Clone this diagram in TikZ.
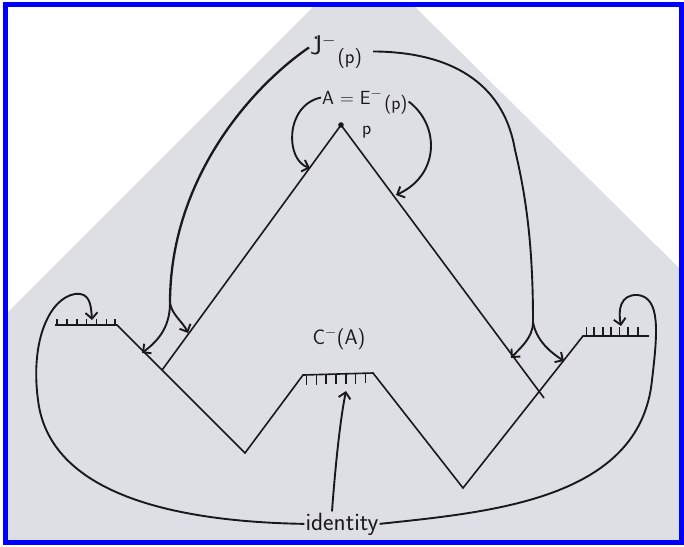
\documentclass[tikz,border=0pt]{standalone}
\usepackage{tikz}
\usetikzlibrary{arrows.meta,calc}
\definecolor{paper}{RGB}{222,222,229}
\definecolor{frameblue}{RGB}{0,0,255}
\definecolor{ink}{RGB}{25,25,25}

\begin{document}
\begin{tikzpicture}[x=1pt,y=-1pt,
    wire/.style={ink, line width=1.6pt},
    hand/.style={ink, line width=1.9pt},
    barb/.style={-{Straight Barb[length=6pt,width=12pt]}},
    lbl/.style={ink, inner sep=1pt, font=\sffamily\fontsize{21}{24}\selectfont}]
    \useasboundingbox (0,0) rectangle (684,546);
    % sheet and frame
    \fill[white] (0,0) rectangle (684,546);
    \fill[paper] (313,7) -- (415,7) -- (679,268) -- (679,540) -- (8,540) -- (8,312) -- cycle;
    \draw[frameblue, line width=5pt] (5.5,4.5) rectangle (681.5,542.5);

    % zigzag boundary
    \coordinate (hl1) at (55,325);
    \coordinate (hl2) at (117,325);
    \coordinate (v1) at (245,453);
    \coordinate (hb1) at (303,375);
    \coordinate (hb2) at (373,373);
    \coordinate (v2) at (463,488);
    \coordinate (hr1) at (583,336);
    \coordinate (hr2) at (649,336);
    \draw[wire] (hl1) -- (hl2) -- (v1) -- (hb1) -- (hb2) -- (v2) -- (hr1) -- (hr2);
    \foreach \t in {0.03,0.19,0.35,0.51,0.67,0.83,0.97}
        \draw[wire] ($(hl1)!\t!(hl2)$) -- ++(0,-6);
    \foreach \t in {0.05,0.19,0.33,0.47,0.61,0.75,0.89}
        \draw[wire] ($(hb1)!\t!(hb2)$) -- ++(0,10);
    \foreach \t in {0.05,0.17,0.30,0.42,0.55,0.68,0.83}
        \draw[wire] ($(hr1)!\t!(hr2)$) -- ++(0,-9);

    % the cone through p
    \coordinate (peak) at (341,125);
    \coordinate (legL) at ($(hl2)!0.352!(v1)$);
    \coordinate (legR) at (544,398);
    \draw[wire] (legL) -- (peak) -- (legR);
    \fill[ink] (peak) circle (2.8);

    % labels
    \node[lbl, anchor=base west, font=\sffamily\fontsize{27}{30}\selectfont] (jlabel) at (309,54)
        {\.{J}\raisebox{9pt}{\fontsize{16}{18}\selectfont$-$}\hspace{2pt}\raisebox{-9pt}{\fontsize{20}{22}\selectfont(p)}};
    \node[lbl, anchor=base west, font=\sffamily\fontsize{19}{22}\selectfont] (alabel) at (321,104)
        {A\hspace{6pt}=\hspace{6pt}E$^{-}$\hspace{2pt}\raisebox{-5pt}{(p)}};
    \node[lbl, anchor=base west, font=\sffamily\fontsize{19}{22}\selectfont] (plabel) at (361,134) {p};
    \node[lbl] (clabel) at (339,339) {C$^{-}$(A)};
    \node[lbl, anchor=base, font=\sffamily\fontsize{25}{28}\selectfont] (ident) at (342,530) {identity};

    % arrow tips and branch points
    \coordinate (jsL) at (170,303);
    \coordinate (jsR) at (533,322);
    \coordinate (tipLz) at (142,353);
    \coordinate (tipLl) at (188,333);
    \coordinate (tipRl) at (511,358);
    \coordinate (tipRz) at (564,361);
    \coordinate (tipAl) at (310,168);
    \coordinate (tipAr) at (396,195);
    \coordinate (tipHl) at (92,320);
    \coordinate (tipHr) at (621,326);
    \coordinate (tipHb) at (346,391);

    % J-(p) arrows
    \draw[hand, line width=2.3pt] ([yshift=4pt]jlabel.west) .. controls (250,88) and (170,180) .. (jsL);
    \draw[hand, barb] (jsL) .. controls (170,330) and (155,343) .. (tipLz);
    \draw[hand, barb] (jsL) .. controls (172,315) and (183,322) .. (tipLl);
    \draw[hand] ([xshift=10pt]jlabel.east) .. controls (460,52) and (505,90) .. (515,150)
        .. controls (527,200) and (533,250) .. (jsR);
    \draw[hand, barb] (jsR) .. controls (533,338) and (520,348) .. (tipRl);
    \draw[hand, barb] (jsR) .. controls (536,340) and (550,352) .. (tipRz);

    % E-(p) arrows
    \draw[hand, barb] ([yshift=4pt]alabel.west) .. controls (285,105) and (285,160) .. (tipAl);
    \draw[hand, barb] (alabel.east) .. controls (440,125) and (440,175) .. (tipAr);

    % identity
    \draw[hand, barb] (ident.west) .. controls (190,522) and (50,500) .. (38,400)
        .. controls (30,340) and (50,298) .. (75,294) .. controls (90,292) and (91,305) .. (tipHl);
    \draw[hand, barb] (ident.east) .. controls (490,512) and (640,500) .. (652,380)
        .. controls (658,330) and (660,298) .. (638,295) .. controls (620,294) and (618,310) .. (tipHr);
    \draw[hand, barb] ([xshift=-10pt]ident.north) .. controls (335,470) and (340,420) .. (tipHb);
\end{tikzpicture}
\end{document}
